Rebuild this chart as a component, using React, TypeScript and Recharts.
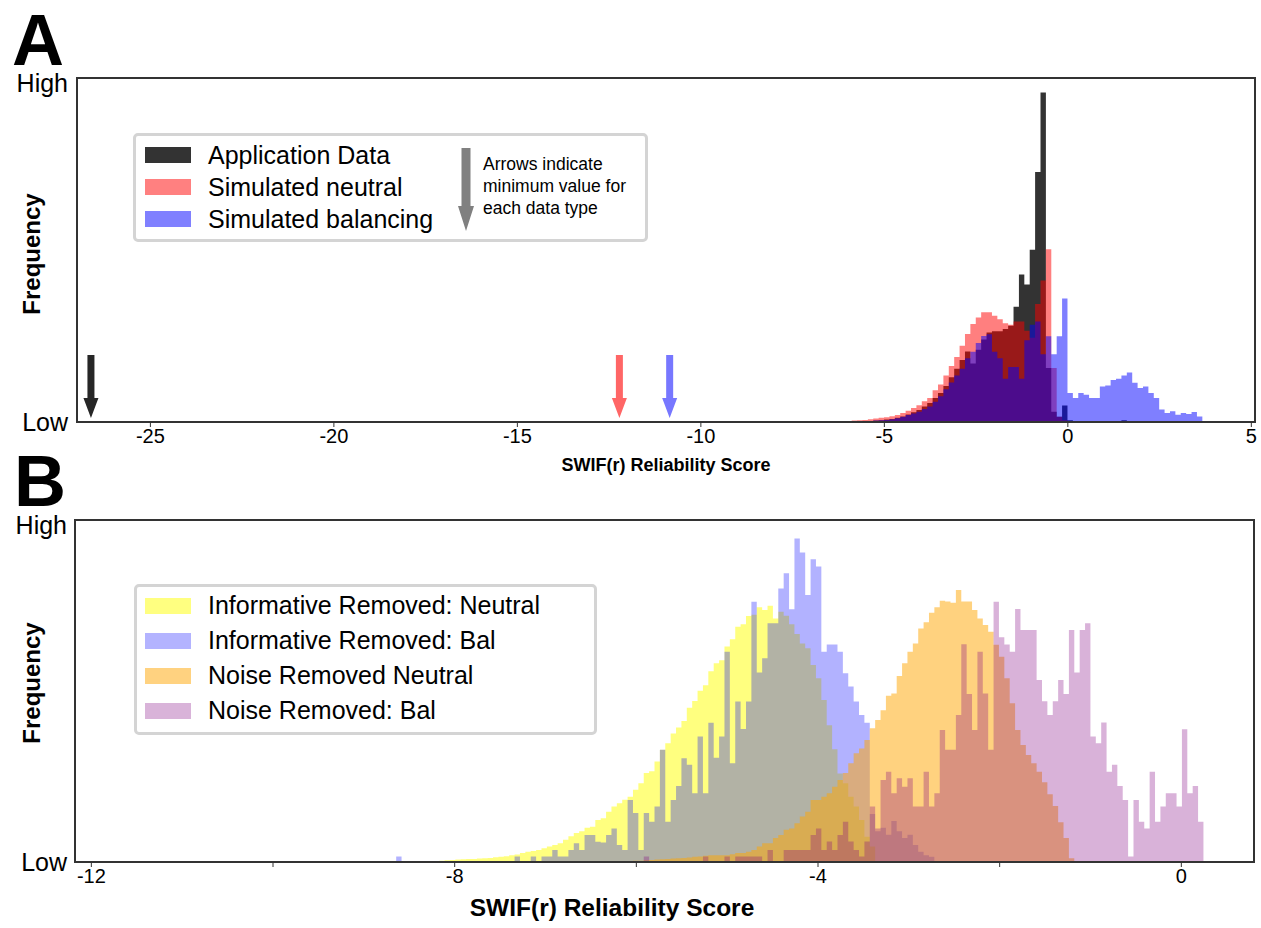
import { ComposedChart, Area, XAxis, YAxis, Scatter, ReferenceArea } from 'recharts';

// ---- Panel A: histogram bins (counts on a 0..100 "frequency" scale)
const binStartA = -6.184;
const binWidthA = 0.147;

const appData = [
  0.1, 0.1, 0.2, 0.2, 0.3, 0.3, 0.4, 0.5, 0.7,
  0.9, 1.2, 1.6, 2.2, 2.8, 3.5, 4.5, 5.5, 7.0,
  8.4, 10.5, 13, 15.5, 18, 20.5, 17, 21, 24,
  26, 26.4, 26.4, 27, 28, 33.5, 42.9, 40, 50.1,
  72.7, 95.8, 15.7, 3, 1.5, 4.8,
  0.5, 0.3, 0.2, 0.2, 0.2, 0.2, 0.2, 0.2, 0.2, 0.2, 0.5, 0.1, 0, 0, 0, 0, 0, 0, 0, 0, 0, 0, 0, 0, 0,
];
const simNeutral = [
  0.3, 0.3, 0.4, 0.5, 0.6, 0.8, 1.0, 1.2, 1.4,
  1.7, 2.0, 2.6, 3.3, 4.1, 4.9, 6.0, 7.0, 9.2,
  10.9, 13.5, 16.3, 18.9, 22.2, 25.6, 28.5, 30.4, 31.9,
  31.9, 30.9, 29.9, 28.7, 28.3, 29.2, 29.2, 26.5, 24.5,
  34.3, 41.1, 50.2, 15.7, 1.5, 0.5,
];
const simBalancing = [
  0.1, 0.1, 0.2, 0.2, 0.3, 0.3, 0.4, 0.5, 0.6,
  0.8, 1.1, 1.5, 2.0, 2.5, 3.0, 3.8, 4.5, 5.9,
  7.5, 9.5, 11.5, 13.5, 15.5, 18.5, 20.4, 23, 25,
  25.5, 20.4, 18.5, 12.6, 16, 16, 12.6, 23.8, 28.3,
  29.2, 19.7, 24.9, 19.7, 24.9, 35.9,
  8.4, 7.0, 8.4, 7.9, 7.0, 7.0, 10.3, 10.6, 12.2, 12.6, 13.5, 14.4, 11.4,
  9.9, 10.3, 8.4, 7.0, 3.6, 2.6, 3.1, 2.1, 2.6, 2.3, 2.9, 1.6,
];
const arrowMinApp = -26.62;
const arrowMinNeutral = -12.22;
const arrowMinBalancing = -10.85;
const ticksA = [-25, -20, -15, -10, -5, 0, 5];

// ---- Panel B
const binStartB = -8.644;
const binWidthB = 0.05925;
const binCountB = 150;

const infoNeutralFrom = 3;
const infoNeutral = [
  0.1, 0.2, 0.2, 0.3, 0.3, 0.4, 0.5, 0.6, 0.7, 0.8, 0.9, 0.9, 1.0, 1.1, 1.2, 1.4, 1.5,
  1.7, 2.0, 2.2, 2.6, 3.0, 3.2, 3.5, 4.0, 4.5, 5.0, 5.5, 6.5, 7.5, 8.5, 9.0, 10.0,
  10.3, 12.3, 12.8, 14.7, 16.2, 17.2, 18.2, 19.1, 21.1, 23,
  26, 26.5, 29.4, 32.8, 34.7, 37.6, 39.3, 41.2, 45.1, 47.1,
  50.1, 51.7, 55.8, 58.1, 59, 63, 65.1, 68.8, 69.5, 71.9,
  72.3, 74.5, 73.7, 74.9, 71.2, 73.2, 72, 69.5,
  66.7, 63.9, 62.5, 57.6, 53.7, 47.4, 40, 33, 25.9, 23, 19.1, 16.2, 12.3, 7.4, 4.5,
];
const infoBalFrom = 0;
const infoBal = [
  1.6, 0, 0, 0, 0, 0, 0, 0, 0, 0, 0, 0, 0, 0, 0, 0, 0, 0, 0, 0, 0, 0,
  1.6, 0, 0, 1.6, 0, 1.6, 1.6, 3.5, 1.6, 1.6, 3.5, 5.5, 3.5, 7.9,
  7.9, 5.9, 5.7, 7.9, 9.8, 5, 3.5, 18.1, 14.3, 3.5,
  14.3, 11.8, 16.2, 32.8, 11.8, 18.1, 22.2, 30.3, 28.4, 20.1,
  36.7, 20.1, 40.7, 30.5, 36.7, 61.5, 28.9, 46.9, 38.9, 46.9,
  76.1, 55.4, 59.6, 69.8, 69.8, 80, 84.4, 73.9,
  94.6, 90.5, 78.1, 88.5, 86.4, 61.5, 63.6, 63.6, 61.5, 55.2, 51.3, 46.9, 43, 40.7,
  14, 9, 10, 8, 12, 9, 7, 8, 5, 3, 2, 1.5,
];
const noiseNeutralFrom = 41;
const noiseNeutral = [
  0.2, 0.3, 0.3, 0.4, 0.4,
  0.5, 0.6, 0.7, 0.8, 0.9, 1, 1.1, 1.2, 1.3, 1.5, 1.6, 1.8, 2.0,
  2.0, 2.0, 2.0, 2.3, 2.6, 2.6, 3, 3.5, 4.5, 5.5, 5.5, 7, 7.9, 9.4, 9.8,
  11.3, 13.3, 14.7, 18.1, 18.1, 19.1, 20.1, 22, 24, 26,
  28.9, 31.8, 33.2, 35.7, 39.1, 41.5, 44.4, 48.6, 49.3, 54.4,
  58.1, 61.5, 63.9, 68.3, 70.1, 72.9, 74.5, 76.4, 76.2, 75.8,
  79.5, 76.2, 76.2, 73.7, 71.2, 69.3, 67.3, 63.5,
  60, 53.7, 46.4, 38.6, 34.2, 31.3, 28.9, 26.4, 23.3, 19.8, 16.4, 11.6, 7, 1.1,
];
const noiseBalFrom = 46;
const noiseBal = [
  1.6, 0, 0, 0, 0, 0, 0, 0, 0, 0, 0, 1.6, 0, 0, 0, 1.6, 0, 1.6, 1.6, 1.6, 1.6, 1.6, 0, 3.5, 0, 0, 3.5, 3.5,
  3.5, 3.5, 3.5, 7.9, 9.8, 3.5, 6, 3.5, 7.9, 11.8,
  6, 3.5, 1.6, 6, 16.2, 9.8, 24, 26.4, 20.1, 24.5,
  22, 24.5, 16.2, 16.2, 26.4, 16.2, 20.1, 38.6, 32.8, 32.8,
  43, 63.7, 49.1, 38.6, 61.5, 49.3, 32.8,
  76.1, 65.7, 63.6, 61.5, 74, 67.8, 67.8, 67.8, 53.2, 47, 43, 47, 53.2, 49.1, 67.8, 55.4, 67.8, 69.8,
  36.7, 34.7, 40.8, 26.4, 28.4, 22.2, 18.1, 1.6, 18.1, 11.8, 9.8, 26.4, 11.8, 16.2, 20.1, 20.1, 16.2,
  38.8, 20.1, 22.2, 11.8,
];
const ticksB = [-12, -10, -8, -6, -4, -2, 0];
const labeledTicksB = [-12, -8, -4, 0];

type SeriesDef = { key: string; from: number; values: number[] };

function buildTable(start: number, width: number, count: number, series: SeriesDef[]) {
  const rows = [];
  for (let i = 0; i <= count; i++) {
    const row: Record<string, number> = { x: start + i * width };
    series.forEach((s) => {
      const v = s.values[i - s.from];
      row[s.key] = i < count && v !== undefined ? v : 0;
    });
    rows.push(row);
  }
  return rows;
}

const tableA = buildTable(binStartA, binWidthA, appData.length, [
  { key: 'app', from: 0, values: appData },
  { key: 'neutral', from: 0, values: simNeutral },
  { key: 'balancing', from: 0, values: simBalancing },
]);

const tableB = buildTable(binStartB, binWidthB, binCountB, [
  { key: 'infoNeutral', from: infoNeutralFrom, values: infoNeutral },
  { key: 'infoBal', from: infoBalFrom, values: infoBal },
  { key: 'noiseNeutral', from: noiseNeutralFrom, values: noiseNeutral },
  { key: 'noiseBal', from: noiseBalFrom, values: noiseBal },
]);

const FONT = '"Liberation Sans", Arial, sans-serif';
const tickStyle = { fontSize: 20, fill: '#000', fontFamily: FONT };

// "High" sits a little below the top spine in the original
const LevelTick = (props: any) => {
  const { x, y, payload } = props;
  const high = payload.value === 100;
  return (
    <text x={x} y={y + (high ? 5 : 0)} dy="0.355em" textAnchor="end" fontSize={25} fill="#000" fontFamily={FONT}>
      {high ? 'High' : 'Low'}
    </text>
  );
};

const DownArrow = (props: any) => {
  const { cx, cy, fill } = props;
  const top = cy - 63;
  const d = `M${cx - 3.5},${top} L${cx + 3.5},${top} L${cx + 3.5},${cy - 20} L${cx + 7.5},${cy - 20} L${cx},${cy} L${cx - 7.5},${cy - 20} L${cx - 3.5},${cy - 20} Z`;
  return <path d={d} fill={fill} />;
};

function Swatch({ color }: { color: string }) {
  return <div style={{ width: 46, height: 16, background: color, marginRight: 17 }} />;
}

function LegendRow({ color, label, h }: { color: string; label: string; h: number }) {
  return (
    <div style={{ display: 'flex', alignItems: 'center', height: h, fontSize: 25 }}>
      <Swatch color={color} />
      <span>{label}</span>
    </div>
  );
}

function PanelA() {
  return (
    <div style={{ position: 'absolute', left: 0, top: 0 }}>
      <ComposedChart width={1261} height={480} data={tableA} margin={{ top: 78, right: 6, bottom: 28, left: 17 }}>
        <XAxis
          type="number"
          dataKey="x"
          domain={[-27, 5.1]}
          ticks={ticksA}
          interval={0}
          allowDataOverflow
          tick={tickStyle}
          tickSize={5}
          axisLine={false}
          tickLine={{ stroke: '#333' }}
        />
        <YAxis
          type="number"
          domain={[0, 100]}
          ticks={[0, 100]}
          width={60}
          tick={<LevelTick />}
          tickLine={false}
          tickSize={0}
          tickMargin={9}
          axisLine={false}
        />
        <Area type="stepAfter" dataKey="app" stroke="none" fill="#000000" fillOpacity={0.8} isAnimationActive={false} dot={false} activeDot={false} />
        <Area type="stepAfter" dataKey="neutral" stroke="none" fill="#ff0000" fillOpacity={0.5} isAnimationActive={false} dot={false} activeDot={false} />
        <Area type="stepAfter" dataKey="balancing" stroke="none" fill="#0000ff" fillOpacity={0.5} isAnimationActive={false} dot={false} activeDot={false} />
        <Scatter data={[{ x: arrowMinApp, y: 1.17 }]} dataKey="y" fill="#262626" shape={DownArrow} isAnimationActive={false} />
        <Scatter data={[{ x: arrowMinNeutral, y: 1.17 }]} dataKey="y" fill="#ff6666" shape={DownArrow} isAnimationActive={false} />
        <Scatter data={[{ x: arrowMinBalancing, y: 1.17 }]} dataKey="y" fill="#7777ff" shape={DownArrow} isAnimationActive={false} />
        <ReferenceArea x1={-27} x2={5.1} y1={0} y2={100} fill="none" stroke="#333" strokeWidth={2} ifOverflow="extendDomain" />
      </ComposedChart>
      <div style={{ position: 'absolute', left: 133, top: 133, width: 509, height: 103, border: '3px solid #d4d4d4', borderRadius: 5, background: '#fff', boxSizing: 'content-box' }}>
        <div style={{ position: 'absolute', left: 9, top: 3 }}>
          <LegendRow color="#333333" label="Application Data" h={32} />
          <LegendRow color="#ff8080" label="Simulated neutral" h={32} />
          <LegendRow color="#8080ff" label="Simulated balancing" h={32} />
        </div>
        <svg style={{ position: 'absolute', left: 320, top: 12 }} width={20} height={86}>
          <path d="M5.5,0 L14.5,0 L14.5,58 L18,58 L10,83 L2,58 L5.5,58 Z" fill="#808080" />
        </svg>
        <div style={{ position: 'absolute', left: 347, top: 17, fontSize: 17.5, lineHeight: '22px' }}>
          Arrows indicate
          <br />
          minimum value for
          <br />
          each data type
        </div>
      </div>
    </div>
  );
}

function PanelB() {
  return (
    <div style={{ position: 'absolute', left: 0, top: 440 }}>
      <ComposedChart width={1261} height={488} data={tableB} margin={{ top: 80, right: 7, bottom: 36, left: 15 }}>
        <XAxis
          type="number"
          dataKey="x"
          domain={[-12.18, 0.8]}
          ticks={ticksB}
          interval={0}
          allowDataOverflow
          tick={tickStyle}
          tickSize={5}
          tickFormatter={(v: number) => (labeledTicksB.includes(v) ? String(v) : '')}
          axisLine={false}
          tickLine={{ stroke: '#333' }}
        />
        <YAxis
          type="number"
          domain={[0, 100]}
          ticks={[0, 100]}
          width={60}
          tick={<LevelTick />}
          tickLine={false}
          tickSize={0}
          tickMargin={8}
          axisLine={false}
        />
        <Area type="stepAfter" dataKey="infoNeutral" stroke="none" fill="#ffff00" fillOpacity={0.5} isAnimationActive={false} dot={false} activeDot={false} />
        <Area type="stepAfter" dataKey="infoBal" stroke="none" fill="#0000ff" fillOpacity={0.3} isAnimationActive={false} dot={false} activeDot={false} />
        <Area type="stepAfter" dataKey="noiseNeutral" stroke="none" fill="#ffa500" fillOpacity={0.5} isAnimationActive={false} dot={false} activeDot={false} />
        <Area type="stepAfter" dataKey="noiseBal" stroke="none" fill="#800080" fillOpacity={0.3} isAnimationActive={false} dot={false} activeDot={false} />
        <ReferenceArea x1={-12.18} x2={0.8} y1={0} y2={100} fill="none" stroke="#333" strokeWidth={2} ifOverflow="extendDomain" />
      </ComposedChart>
      <div style={{ position: 'absolute', left: 134, top: 144, width: 457, height: 145, border: '3px solid #d4d4d4', borderRadius: 5, background: '#fff', boxSizing: 'content-box' }}>
        <div style={{ position: 'absolute', left: 8, top: 1 }}>
          <LegendRow color="#ffff80" label="Informative Removed: Neutral" h={35} />
          <LegendRow color="#b3b3ff" label="Informative Removed: Bal" h={35} />
          <LegendRow color="#ffd280" label="Noise Removed Neutral" h={35} />
          <LegendRow color="#d9b3d9" label="Noise Removed: Bal" h={35} />
        </div>
      </div>
    </div>
  );
}

export default function App() {
  const bold = { position: 'absolute' as const, fontWeight: 700, fontFamily: FONT, color: '#000' };
  return (
    <div style={{ position: 'absolute', left: 0, top: 0, width: 1261, height: 928, background: '#fff', fontFamily: FONT, overflow: 'hidden' }}>
      <PanelA />
      <PanelB />
      <div style={{ ...bold, left: 12, top: 12, fontSize: 72, lineHeight: '56px' }}>A</div>
      <div style={{ ...bold, left: 14, top: 453, fontSize: 72, lineHeight: '56px' }}>B</div>
      <div style={{ ...bold, left: 32, top: 254, fontSize: 24, transform: 'translate(-50%, -50%) rotate(-90deg)', whiteSpace: 'nowrap' }}>Frequency</div>
      <div style={{ ...bold, left: 32, top: 683, fontSize: 24, transform: 'translate(-50%, -50%) rotate(-90deg)', whiteSpace: 'nowrap' }}>Frequency</div>
      <div style={{ ...bold, left: 666, top: 465, fontSize: 18, transform: 'translate(-50%, -50%)', whiteSpace: 'nowrap' }}>SWIF(r) Reliability Score</div>
      <div style={{ ...bold, left: 612, top: 908, fontSize: 24.5, transform: 'translate(-50%, -50%)', whiteSpace: 'nowrap' }}>SWIF(r) Reliability Score</div>
    </div>
  );
}
